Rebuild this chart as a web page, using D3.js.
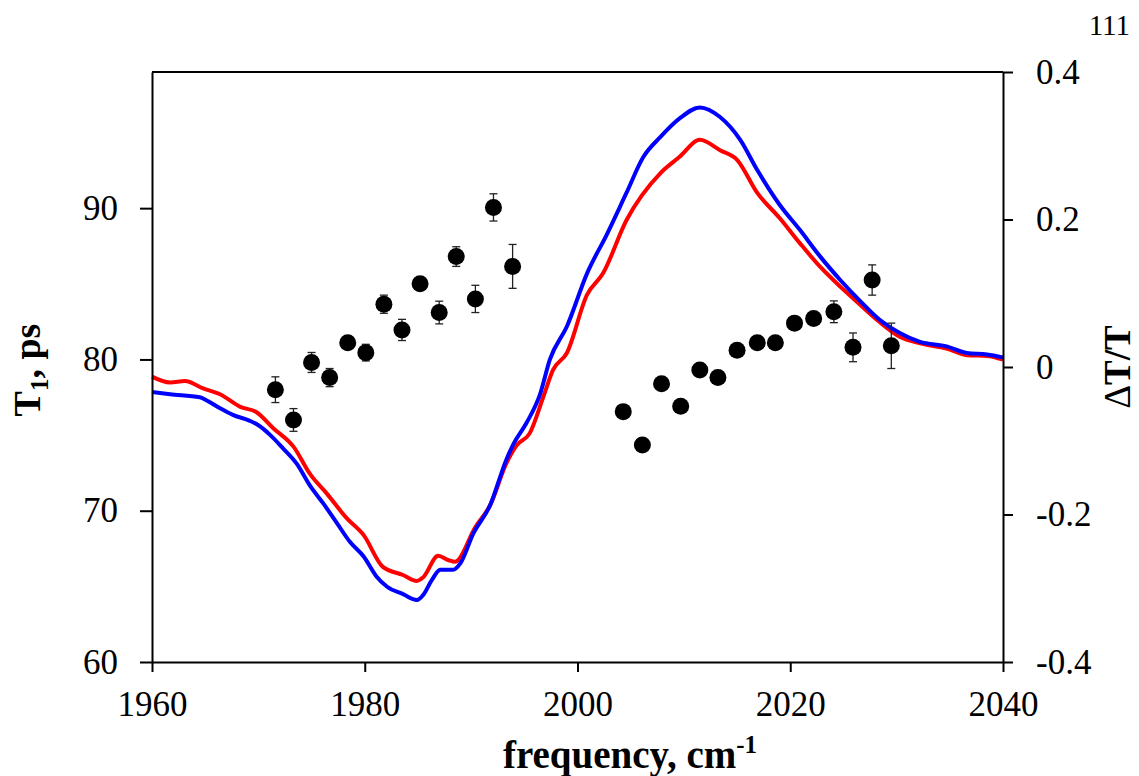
<!DOCTYPE html>
<html>
<head>
<meta charset="utf-8">
<script src="https://cdn.jsdelivr.net/npm/d3@7"></script>
<style>
  html, body { margin: 0; padding: 0; background: #fff; }
  svg { display: block; }
</style>
</head>
<body>
<svg id="chart" width="1139" height="776"></svg>
<script>
// ---------- data ----------
const xTicks = [1960, 1980, 2000, 2020, 2040];
const leftTicks = [60, 70, 80, 90];
const rightTicks = [-0.4, -0.2, 0, 0.2, 0.4];

// T1 lifetimes (left axis) with error bars
const t1Freq = [1971.6, 1973.3, 1975.0, 1976.7, 1978.4, 1980.1, 1981.8, 1983.5, 1985.2, 1987.0, 1988.6, 1990.4, 1992.1, 1993.9,
                2004.3, 2006.1, 2007.9, 2009.7, 2011.5, 2013.2, 2015.0, 2016.9, 2018.6, 2020.4, 2022.2, 2024.1, 2025.9, 2027.7, 2029.5];
const t1Value = [78.0, 76.0, 79.8, 78.8, 81.1, 80.45, 83.65, 81.95, 85.0, 83.1, 86.8, 84.0, 90.05, 86.15,
                 76.55, 74.35, 78.4, 76.9, 79.3, 78.8, 80.6, 81.1, 81.1, 82.4, 82.7, 83.15, 80.8, 85.25, 80.9];
const t1Err = [0.85, 0.75, 0.66, 0.6, 0.25, 0.55, 0.6, 0.7, 0.35, 0.75, 0.65, 0.9, 0.9, 1.45,
               0.2, 0.2, 0.2, 0.2, 0.2, 0.2, 0.2, 0.2, 0.2, 0.2, 0.2, 0.72, 0.95, 1.0, 1.5];

// dT/T spectra (right axis)
const blueFreq = [1960.0, 1961.7, 1964.5, 1965.1, 1966.4, 1967.6, 1969.2, 1970.0, 1971.1, 1972.3, 1973.6, 1974.9, 1976.1, 1977.4,
                  1978.6, 1979.9, 1981.1, 1982.1, 1983.6, 1984.9, 1985.5, 1986.3, 1987.1, 1988.3, 1989.0, 1990.2, 1991.8, 1993.3,
                  1994.0, 1995.2, 1996.5, 1997.4, 1999.0, 2000.9, 2002.8, 2004.6, 2006.2, 2007.8, 2009.6, 2011.5, 2013.4, 2015.3,
                  2016.9, 2019.0, 2020.9, 2022.8, 2024.7, 2026.6, 2028.4, 2030.3, 2032.2, 2034.7, 2036.6, 2038.5, 2040.0];
const blueValue = [-0.034, -0.037, -0.041, -0.045, -0.056, -0.065, -0.073, -0.079, -0.092, -0.110, -0.131, -0.162, -0.185, -0.212,
                   -0.237, -0.257, -0.284, -0.298, -0.308, -0.316, -0.309, -0.289, -0.275, -0.275, -0.266, -0.226, -0.187, -0.126,
                   -0.104, -0.076, -0.036, 0.010, 0.055, 0.127, 0.181, 0.236, 0.285, 0.312, 0.337, 0.352, 0.339, 0.308,
                   0.267, 0.220, 0.186, 0.150, 0.118, 0.089, 0.064, 0.046, 0.034, 0.028, 0.019, 0.017, 0.013];

const redFreq = [1960.0, 1961.7, 1963.1, 1964.8, 1966.4, 1968.3, 1969.8, 1971.4, 1973.3, 1974.9, 1976.4, 1978.3, 1979.9, 1981.7,
                 1983.6, 1984.9, 1985.5, 1986.9, 1987.9, 1988.5, 1990.4, 1991.8, 1993.3, 1994.3, 1995.5, 1996.8, 1997.7, 1999.0,
                 2000.9, 2002.4, 2004.6, 2007.8, 2009.6, 2011.5, 2013.4, 2015.0, 2016.9, 2019.0, 2020.9, 2022.8, 2024.7, 2026.6,
                 2028.4, 2030.3, 2032.2, 2034.7, 2036.6, 2038.5, 2040.0];
const redValue = [-0.013, -0.021, -0.019, -0.029, -0.037, -0.054, -0.061, -0.083, -0.108, -0.146, -0.171, -0.205, -0.228, -0.271,
                  -0.282, -0.290, -0.285, -0.256, -0.262, -0.264, -0.217, -0.187, -0.131, -0.106, -0.090, -0.040, -0.004, 0.019,
                  0.098, 0.127, 0.199, 0.263, 0.285, 0.308, 0.294, 0.281, 0.236, 0.202, 0.168, 0.136, 0.109, 0.084,
                  0.061, 0.041, 0.032, 0.025, 0.016, 0.015, 0.010];

// ---------- layout ----------
const FONT = "font-family:'Liberation Serif','Times New Roman','DejaVu Serif',serif;";
const svg = d3.select("#chart");
const L = 152, R = 1003, T = 72, B = 662;

const x = d3.scaleLinear().domain([1960, 2040]).range([L, R]);
const yL = d3.scaleLinear().domain([60, 99]).range([B, T]);
const yR = d3.scaleLinear().domain([-0.4, 0.4]).range([B, T]);

// ---------- lines ----------
const lineR = d3.line().x((d, i) => x(redFreq[i])).y(d => yR(d)).curve(d3.curveMonotoneX);
const lineB = d3.line().x((d, i) => x(blueFreq[i])).y(d => yR(d)).curve(d3.curveMonotoneX);

svg.append("path").attr("d", lineR(redValue))
  .attr("fill", "none").attr("stroke", "#ff0000").attr("stroke-width", 4).attr("stroke-linejoin", "round");
svg.append("path").attr("d", lineB(blueValue))
  .attr("fill", "none").attr("stroke", "#0000ff").attr("stroke-width", 4).attr("stroke-linejoin", "round");

// ---------- T1 points with error bars ----------
const pts = svg.append("g");
t1Freq.forEach((f, i) => {
  const cx = x(f), lo = yL(t1Value[i] - t1Err[i]), hi = yL(t1Value[i] + t1Err[i]);
  const g = pts.append("g");
  g.append("line").attr("x1", cx).attr("x2", cx).attr("y1", lo).attr("y2", hi)
    .attr("stroke", "#222").attr("stroke-width", 1.3);
  g.append("line").attr("x1", cx - 4).attr("x2", cx + 4).attr("y1", lo).attr("y2", lo)
    .attr("stroke", "#222").attr("stroke-width", 1.3);
  g.append("line").attr("x1", cx - 4).attr("x2", cx + 4).attr("y1", hi).attr("y2", hi)
    .attr("stroke", "#222").attr("stroke-width", 1.3);
  g.append("circle").attr("cx", cx).attr("cy", yL(t1Value[i])).attr("r", 8.5).attr("fill", "#000");
});

// ---------- axes ----------
function styleAxis(g) {
  g.attr("font-family", null).attr("font-size", null);
  g.selectAll("path.domain").attr("stroke", "#000").attr("stroke-width", 2);
  g.selectAll(".tick line").attr("stroke", "#000").attr("stroke-width", 2);
  g.selectAll(".tick text").attr("style", FONT + "font-size:35px;font-weight:normal;").attr("fill", "#000");
}

// top frame line
svg.append("line").attr("x1", x(1960)).attr("x2", x(2040)).attr("y1", yL(99)).attr("y2", yL(99))
  .attr("stroke", "#000").attr("stroke-width", 2);

svg.append("g").attr("transform", `translate(0,${B})`)
  .call(d3.axisBottom(x).tickValues(xTicks).tickFormat(d3.format("d")).tickSizeInner(10).tickSizeOuter(0).tickPadding(19))
  .call(styleAxis);

svg.append("g").attr("transform", `translate(${L},0)`)
  .call(d3.axisLeft(yL).tickValues(leftTicks).tickFormat(d3.format("d")).tickSizeInner(12).tickSizeOuter(0).tickPadding(22))
  .call(styleAxis);

svg.append("g").attr("transform", `translate(${R},0)`)
  .call(d3.axisRight(yR).tickValues(rightTicks).tickFormat(d => d === 0 ? "0" : d.toFixed(1)).tickSizeInner(10).tickSizeOuter(0).tickPadding(23))
  .call(styleAxis);

// ---------- titles ----------
const BOLD = FONT + "font-weight:bold;";
const xt = svg.append("text").attr("x", 630).attr("y", 768).attr("text-anchor", "middle")
  .attr("style", BOLD + "font-size:39px;").attr("fill", "#000");
xt.append("tspan").text("frequency, cm");
xt.append("tspan").attr("style", "font-size:25px;").attr("dy", -15).text("-1");

const yt = svg.append("text").attr("transform", "translate(40,370) rotate(-90)").attr("text-anchor", "middle")
  .attr("style", BOLD + "font-size:38px;").attr("fill", "#000");
yt.append("tspan").text("T");
yt.append("tspan").attr("style", "font-size:25px;").attr("dy", 8).text("1");
yt.append("tspan").attr("dy", -8).text(", ps");

const rt = svg.append("text").attr("transform", "translate(1130,367) rotate(-90)").attr("text-anchor", "middle")
  .attr("style", FONT + "font-size:37px;").attr("fill", "#000");
rt.append("tspan").text("Δ");
rt.append("tspan").attr("style", "font-weight:bold;").text("T/T");

svg.append("text").attr("x", 1130).attr("y", 35).attr("text-anchor", "end")
  .attr("style", FONT + "font-size:29px;").attr("fill", "#000").text("111");
</script>
</body>
</html>
